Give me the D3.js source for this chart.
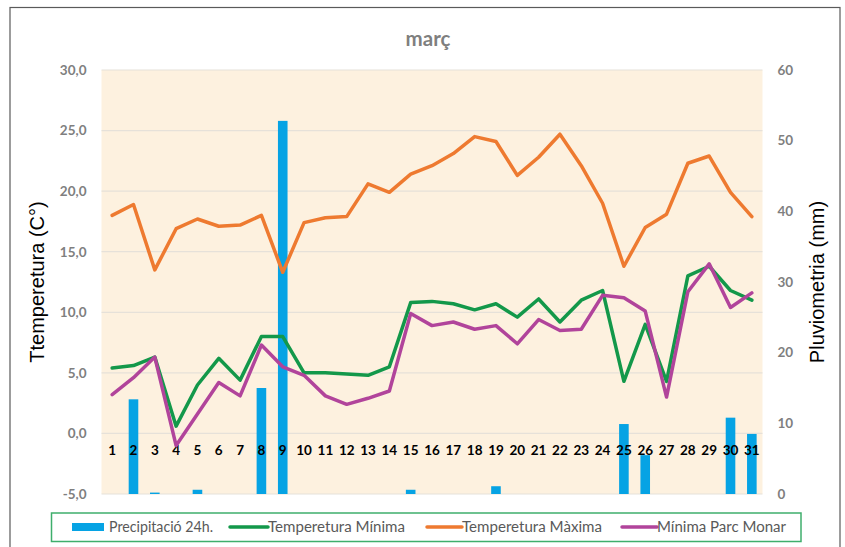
<!DOCTYPE html>
<html>
<head>
<meta charset="utf-8">
<script src="https://cdn.jsdelivr.net/npm/d3@7"></script>
<style>
  html, body { margin: 0; padding: 0; background: #ffffff; }
  svg { display: block; }
</style>
</head>
<body>
<svg id="chart" width="845" height="547"></svg>
<script>
// ---- data ----
const days = d3.range(1, 32).map(String);
const precipitacio = [0, 13.4, 0.2, 0, 0.6, 0, 0, 15.0, 52.8, 0, 0, 0, 0, 0, 0.6, 0, 0, 0, 1.1, 0, 0, 0, 0, 0, 9.9, 5.5, 0, 0, 0, 10.8, 8.5];
const tempMinima = [5.4, 5.6, 6.3, 0.6, 4.0, 6.2, 4.4, 8.0, 8.0, 5.0, 5.0, 4.9, 4.8, 5.5, 10.8, 10.9, 10.7, 10.2, 10.7, 9.6, 11.1, 9.2, 11.0, 11.8, 4.3, 9.0, 4.3, 13.0, 13.8, 11.8, 11.0];
const tempMaxima = [18.0, 18.9, 13.5, 16.9, 17.7, 17.1, 17.2, 18.0, 13.3, 17.4, 17.8, 17.9, 20.6, 19.9, 21.4, 22.1, 23.1, 24.5, 24.1, 21.3, 22.8, 24.7, 22.1, 19.0, 13.8, 17.0, 18.1, 22.3, 22.9, 19.9, 17.9];
const minimaParcMonar = [3.2, 4.6, 6.3, -1.0, 1.6, 4.2, 3.1, 7.3, 5.5, 4.8, 3.1, 2.4, 2.9, 3.5, 9.9, 8.9, 9.2, 8.6, 8.9, 7.4, 9.4, 8.5, 8.6, 11.4, 11.2, 10.1, 3.0, 11.7, 14.0, 10.4, 11.6];
const tempTicks = [-5, 0, 5, 10, 15, 20, 25, 30];
const pluvTicks = [0, 10, 20, 30, 40, 50, 60];
const title = "març";
const legendLabels = ["Precipitació 24h.", "Temperetura Mínima", "Temperetura Màxima", "Mínima Parc Monar"];

// ---- layout ----
const svg = d3.select("#chart");
const plot = { left: 101.5, right: 762.5, top: 70, bottom: 494 };
const colors = { bar: "#06a3e4", min: "#13984a", max: "#ee7a30", monar: "#b1449b" };
const grayText = "#7f7f7f";
const font = "Lato, 'Open Sans', 'DejaVu Sans', sans-serif";

const x = d3.scaleBand().domain(days).range([plot.left, plot.right]).padding(0);
const yT = d3.scaleLinear().domain([-5, 30]).range([plot.bottom, plot.top]);
const yP = d3.scaleLinear().domain([0, 60]).range([plot.bottom, plot.top]);
const fmt = d => d3.format(".1f")(d).replace("\u2212", "-").replace(".", ",");

// outer border
svg.append("rect").attr("x", 10).attr("y", 7.5).attr("width", 830).attr("height", 560)
  .attr("fill", "#ffffff").attr("stroke", "#5a5a5a").attr("stroke-width", 1.2);

// title
svg.append("text").attr("x", 428).attr("y", 46).attr("text-anchor", "middle")
  .attr("font-family", font).attr("font-weight", "bold").attr("font-size", 20.5)
  .attr("fill", grayText).text(title);

// plot background
svg.append("rect").attr("x", plot.left).attr("y", plot.top)
  .attr("width", plot.right - plot.left).attr("height", plot.bottom - plot.top)
  .attr("fill", "#fdf1df");

// gridlines
svg.append("g").selectAll("line").data(tempTicks).join("line")
  .attr("x1", plot.left).attr("x2", plot.right)
  .attr("y1", d => yT(d)).attr("y2", d => yT(d))
  .attr("stroke", "#e6e1d9").attr("stroke-width", 1.2);

// left axis
const gL = svg.append("g").attr("transform", `translate(${plot.left},0)`)
  .call(d3.axisLeft(yT).tickValues(tempTicks).tickFormat(fmt).tickSize(0).tickPadding(15));
gL.select(".domain").remove();
gL.selectAll("text").attr("font-family", font).attr("font-weight", "bold")
  .attr("font-size", 13.5).attr("fill", grayText);

// right axis
const gR = svg.append("g").attr("transform", `translate(${plot.right},0)`)
  .call(d3.axisRight(yP).tickValues(pluvTicks).tickFormat(d3.format("d")).tickSize(0).tickPadding(15));
gR.select(".domain").remove();
gR.selectAll("text").attr("font-family", font).attr("font-weight", "bold")
  .attr("font-size", 13.5).attr("fill", grayText);

// axis titles
svg.append("text").attr("transform", `translate(44,282) rotate(-90)`)
  .attr("text-anchor", "middle").attr("font-family", "'Liberation Sans', Arial, sans-serif")
  .attr("font-size", 20).attr("fill", "#000").text("Ttemperetura (C°)");
svg.append("text").attr("transform", `translate(824,282) rotate(-90)`)
  .attr("text-anchor", "middle").attr("font-family", "'Liberation Sans', Arial, sans-serif")
  .attr("font-size", 20).attr("fill", "#000").text("Pluviometria (mm)");

// bars
const barW = x.bandwidth() * 0.45;
svg.append("g").selectAll("rect").data(precipitacio.map((v, i) => ({ d: days[i], v })).filter(o => o.v > 0))
  .join("rect")
  .attr("x", o => x(o.d) + x.bandwidth() / 2 - barW / 2)
  .attr("width", barW)
  .attr("y", o => yP(o.v))
  .attr("height", o => yP(0) - yP(o.v))
  .attr("fill", colors.bar);

// category labels (crossing at 0)
const gX = svg.append("g").attr("transform", `translate(0,${yT(0)})`)
  .call(d3.axisBottom(x).tickSize(0).tickPadding(12));
gX.select(".domain").remove();
gX.selectAll("text").attr("font-family", font).attr("font-weight", "bold")
  .attr("font-size", 13.5).attr("fill", "#000");

// lines
const series = [
  { vals: tempMaxima, color: colors.max },
  { vals: tempMinima, color: colors.min },
  { vals: minimaParcMonar, color: colors.monar }
];
const line = d3.line().x((v, i) => x(days[i]) + x.bandwidth() / 2).y(v => yT(v));
svg.append("g").selectAll("path").data(series).join("path")
  .attr("d", s => line(s.vals))
  .attr("fill", "none").attr("stroke", s => s.color)
  .attr("stroke-width", 3.5).attr("stroke-linejoin", "round").attr("stroke-linecap", "round");

// legend
svg.append("rect").attr("x", 51.5).attr("y", 513).attr("width", 749.5).attr("height", 28.5)
  .attr("fill", "#ffffff").attr("stroke", "#3fae6c").attr("stroke-width", 1.5);
const legItems = [
  { label: legendLabels[0], type: "bar", color: colors.bar, sx: 72, ex: 104, tx: 109, tw: 104 },
  { label: legendLabels[1], type: "line", color: colors.min, sx: 230, ex: 268, tx: 268, tw: 137 },
  { label: legendLabels[2], type: "line", color: colors.max, sx: 427, ex: 462, tx: 462, tw: 140 },
  { label: legendLabels[3], type: "line", color: colors.monar, sx: 622, ex: 657, tx: 657, tw: 129 }
];
const lg = svg.append("g");
legItems.forEach(it => {
  if (it.type === "bar") {
    lg.append("rect").attr("x", it.sx).attr("y", 523).attr("width", it.ex - it.sx).attr("height", 8)
      .attr("fill", it.color);
  } else {
    lg.append("line").attr("x1", it.sx).attr("x2", it.ex).attr("y1", 527).attr("y2", 527)
      .attr("stroke", it.color).attr("stroke-width", 3.5).attr("stroke-linecap", "round");
  }
  lg.append("text").attr("x", it.tx).attr("y", 532)
    .attr("font-family", font).attr("font-size", 14.5).attr("fill", "#595959")
    .attr("textLength", it.tw).attr("lengthAdjust", "spacingAndGlyphs")
    .text(it.label);
});
</script>
</body>
</html>
